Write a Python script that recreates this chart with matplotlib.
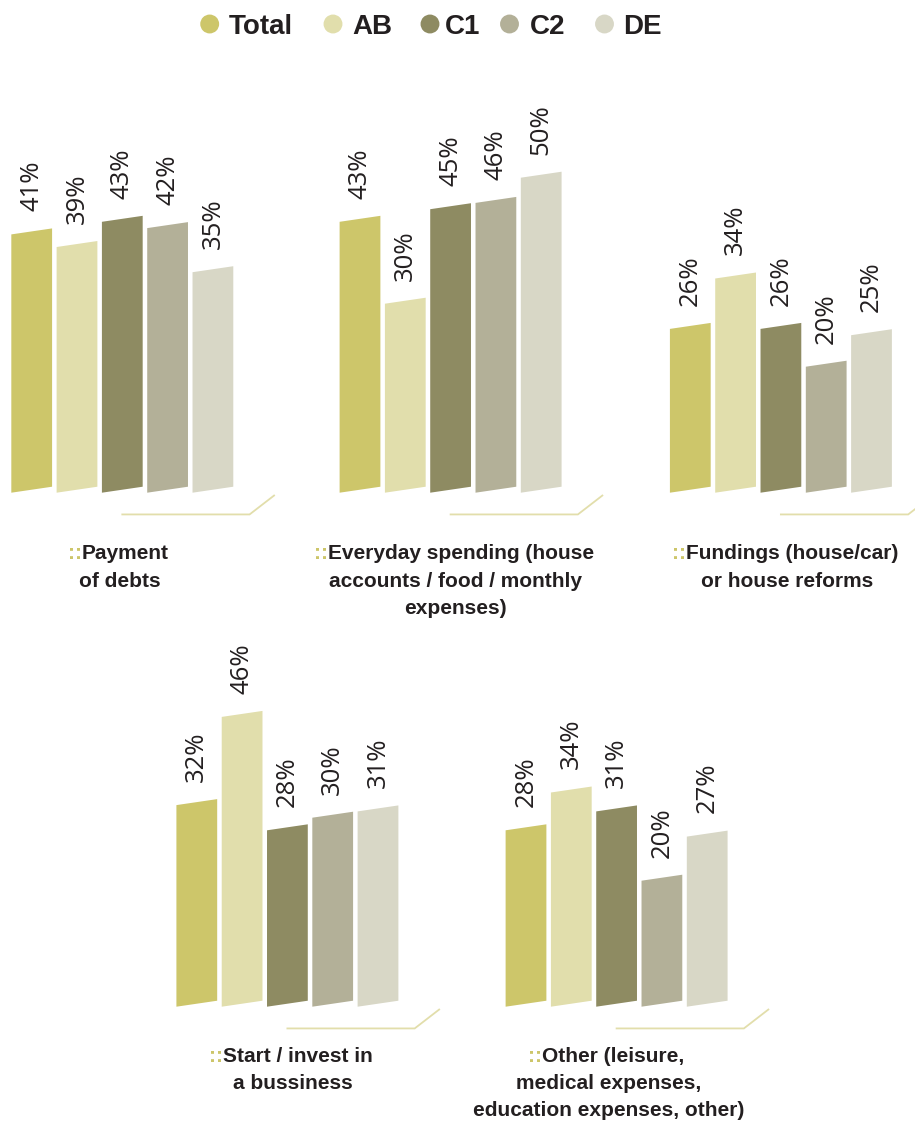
import matplotlib.pyplot as plt
from matplotlib.patches import Polygon

# -------- data -------- #
series = ['Total', 'AB', 'C1', 'C2', 'DE']
colors = ['#cdc66a', '#e1deac', '#8e8b62', '#b3b098', '#d8d7c6']

payment_of_debts = [41, 39, 43, 42, 35]
everyday_spending = [43, 30, 45, 46, 50]
fundings = [26, 34, 26, 20, 25]
start_business = [32, 46, 28, 30, 31]
other = [28, 34, 31, 20, 27]

categories = [
    ['Payment', 'of debts'],
    ['Everyday spending (house', 'accounts / food / monthly', 'expenses)'],
    ['Fundings (house/car)', 'or house reforms'],
    ['Start / invest in', 'a bussiness'],
    ['Other (leisure,', 'medical expenses,', 'education expenses, other)'],
]
groups = [payment_of_debts, everyday_spending, fundings, start_business, other]

# -------- layout (pixels) -------- #
W, H = 915, 1122
PITCH = 45.3      # px between bar centres
PXP = 6.3         # px per percentage point
BAR_W = 0.9       # bar width in bar units
SKEW = 0.95       # rise of the bar top/bottom across one bar (in %)
TEXT = '#231f20'
FLOOR = '#e2deab'

# bar0 centre x, baseline y, label baseline offset, label x shift
placement = [
    (31.7, 492.7, 66.6, -2),
    (360.0, 492.7, 66.6, 5),
    (690.3, 492.7, 66.6, 6),
    (196.8, 1006.7, 55.0, 5),
    (526.0, 1006.7, 55.0, -8),
]

fig = plt.figure(figsize=(W / 100, H / 100), dpi=100)

XL = (-0.7, 5.6)
YL = (-15, 62)

for values, lines, (x0, base, dy, dx) in zip(groups, categories, placement):
    left = x0 + XL[0] * PITCH
    top = base - YL[1] * PXP
    w = (XL[1] - XL[0]) * PITCH
    h = (YL[1] - YL[0]) * PXP
    ax = fig.add_axes([left / W, 1 - (top + h) / H, w / W, h / H])
    ax.set_xlim(*XL)
    ax.set_ylim(*YL)
    ax.axis('off')

    for i, (v, c) in enumerate(zip(values, colors)):
        xl, xr = i - BAR_W / 2, i + BAR_W / 2
        ax.add_patch(Polygon([(xl, 0), (xr, SKEW), (xr, v + SKEW), (xl, v)],
                             closed=True, facecolor=c, edgecolor='none'))
        ax.text(i, v + SKEW / 2 + 3.2, f'{v}%', rotation=90, ha='center', va='bottom',
                fontsize=18.5, family=['Open Sans', 'DejaVu Sans'], color=TEXT)

    # floor line
    ax.plot([2.0, 4.81, 5.35], [-3.45, -3.45, -0.45], color=FLOOR, lw=1.3,
            solid_joinstyle='miter', clip_on=False)

    # category label
    cx = 2 + dx / PITCH
    for k, line in enumerate(lines):
        y = -(dy + k * 27.4) / PXP
        shift = 5 / PITCH if k == 0 else 0
        t = ax.text(cx + shift, y, line, ha='center', va='baseline', fontsize=15,
                    fontweight='bold', family=['Liberation Sans', 'DejaVu Sans'],
                    color=TEXT, clip_on=False)
        if k == 0:
            ax.annotate('::', xy=(0, 0), xycoords=t, ha='right', va='bottom',
                        fontsize=15, fontweight='bold', color=colors[0],
                        family=['Liberation Sans', 'DejaVu Sans'])

# -------- legend -------- #
lax = fig.add_axes([0, 0, 1, 1])
lax.set_xlim(0, W)
lax.set_ylim(H, 0)
lax.axis('off')
dot_x = [209.7, 333.0, 430.0, 509.5, 604.5]
text_x = [229.0, 352.0, 445.0, 530.0, 623.0]
lax.scatter(dot_x, [24] * len(dot_x), s=185, c=colors, edgecolors='none')
for tx, name in zip(text_x, series):
    lax.text(tx, 34.3, name, ha='left', va='baseline', fontsize=20, fontweight='bold',
             family=['Liberation Sans', 'DejaVu Sans'], color=TEXT)

fig.savefig('out.png', dpi=100, facecolor='white')
